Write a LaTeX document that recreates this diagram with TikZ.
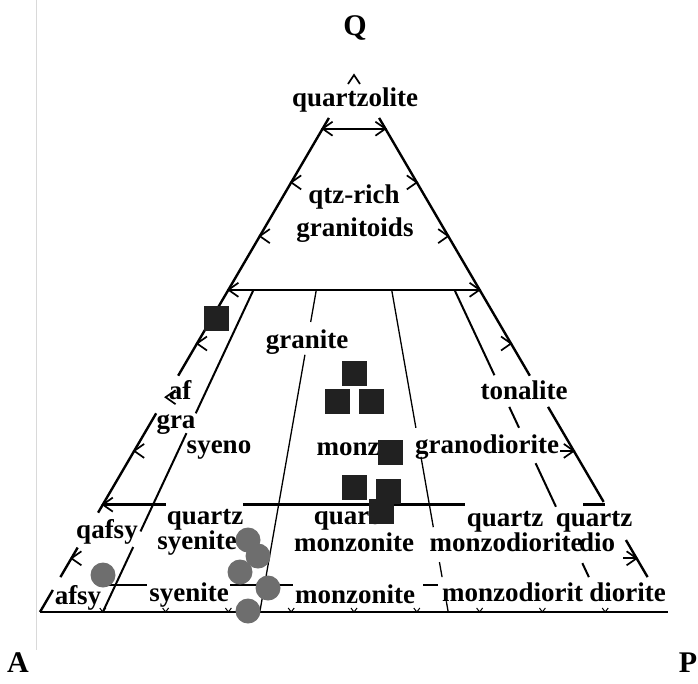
\documentclass[tikz,border=0pt]{standalone}
\usepackage{fontspec}
\setmainfont{Liberation Serif}
\begin{document}
\begin{tikzpicture}[x=1pt,y=-1pt,
  lbl/.style={font=\fontsize{27}{30}\selectfont\bfseries,inner sep=0pt,text height=18.6pt,text depth=5.9pt},
  vtx/.style={font=\fontsize{30}{34}\selectfont\bfseries,inner sep=0pt},
  rim/.style={line width=2.4pt},
  bnd/.style={line width=2pt},
  thinbnd/.style={line width=1.3pt},
  arrowmark/.style={line width=1.7pt},
  blk/.style={fill=black!87,draw=none,minimum size=25pt,inner sep=0pt},
  grain/.style={circle,fill=black!57,draw=none,minimum size=25pt,inner sep=0pt}]
\useasboundingbox (0,0) rectangle (698,683);
\draw[black!15,line width=1pt] (36,0) -- (36,650);

% QAP triangle, coordinates (P%,Q%)
\begin{scope}[shift={(40,612)},x={(6.28pt,0pt)},y={(3.14pt,5.37pt)}]
\foreach \p/\qa/\qb in {0/92/44,0/37/18.5,0/12/6.5,0/4.1/0,1/92/44,1/38.2/20.5,1/13.4/6.5}
  \draw[rim] ({\p*(100-\qa)},\qa) -- ({\p*(100-\qb)},\qb);
\draw[rim] (0,0) -- (100,0);
\draw[rim] (0,90) -- (10,90);
\draw[rim] (0,60) -- (40,60);
\draw[rim] (0,20) -- (10,20) (22.3,20) -- (57.7,20) (76.5,20) -- (80,20);
\draw[rim] (8.3,5) -- (14.5,5) (27.8,5) -- (37.8,5) (58.5,5) -- (60.9,5);
\foreach \p/\qa/\qb in {0.1/60/37,0.1/33.3/15,0.1/12.1/0,0.9/60/44.1,0.9/38.2/34.3,0.9/27.7/19.6,0.9/9.1/6.5}
  \draw[bnd] ({\p*(100-\qa)},\qa) -- ({\p*(100-\qb)},\qb);
\foreach \p/\qa/\qb in {0.35/60/54,0.35/47.9/6.5,0.35/3/0,0.65/60/34.3,0.65/28.9/15.8,0.65/9.3/6.5,0.65/2/0}
  \draw[thinbnd] ({\p*(100-\qa)},\qa) -- ({\p*(100-\qb)},\qb);
% arrow marks
\foreach \q in {10,20,...,90}
  \draw[arrowmark] (0,\q) +(10pt,7pt) -- (0,\q) -- +(10pt,-7pt);
\foreach \q in {10,30,50,60,70,80,90}
  \draw[arrowmark] (100-\q,\q) +(-10pt,7pt) -- (100-\q,\q) -- +(-10pt,-7pt);
\draw[arrowmark] (70,30) -- +(-14pt,0);
\draw[arrowmark] (90,10) -- +(-14pt,0);
\draw[arrowmark] (0,100) +(-6pt,-9pt) -- (0,100) -- +(6pt,-9pt);
\foreach \p in {10,20,...,90}
  \draw[line width=1pt] (\p,0) +(-3pt,4pt) -- (\p,0) -- +(3pt,4pt);
\end{scope}

% corners
\node[vtx] (Q) at (355,28) {Q};
\node[vtx] (A) at (18,663) {A};
\node[vtx] (P) at (688,663) {P};

% fields
\node[lbl] (qzl) at (355,100) {quartzolite};
\node[lbl] (qrg1) at (354,197) {qtz-rich};
\node[lbl] (qrg2) at (355,230) {granitoids};
\node[lbl] (gr) at (307,342) {granite};
\node[lbl] (afg1) at (180,393) {af};
\node[lbl] (afg2) at (176,422) {gra};
\node[lbl] (syg) at (219,447) {syeno};
\node[lbl] (mzg) at (348,449) {monz};
\node[lbl] (gd) at (487,447) {granodiorite};
\node[lbl] (tn) at (524,393) {tonalite};
\node[lbl] (qafs) at (107,532) {qafsy};
\node[lbl] (qs1) at (205,518) {quartz};
\node[lbl] (qs2) at (197,543) {syenite};
\node[lbl] (qm1) at (352,518) {quartz};
\node[lbl] (qm2) at (354,545) {monzonite};
\node[lbl] (qmd1) at (505,520) {quartz};
\node[lbl] (qmd2) at (506,545) {monzodiorite};
\node[lbl] (qd1) at (594,520) {quartz};
\node[lbl] (qd2) at (597,545) {dio};
\node[lbl] (afs) at (78,598) {afsy};
\node[lbl] (sy) at (189,595) {syenite};
\node[lbl] (mz) at (355,597) {monzonite};
\node[lbl,anchor=west] (md) at (442,595) {monzodiorit};
\node[lbl,anchor=east] (di) at (666,595) {diorite};

% samples
\foreach \x/\y [count=\i] in {216/318,354/373,337/401,371/401,390/452,354/487,388/491,381/511}
  \node[blk] (sq\i) at (\x,\y) {};
\foreach \x/\y [count=\i] in {103/575,248/540,258/556,240/572,268/588,248/611}
  \node[grain] (ci\i) at (\x,\y) {};
\end{tikzpicture}
\end{document}
